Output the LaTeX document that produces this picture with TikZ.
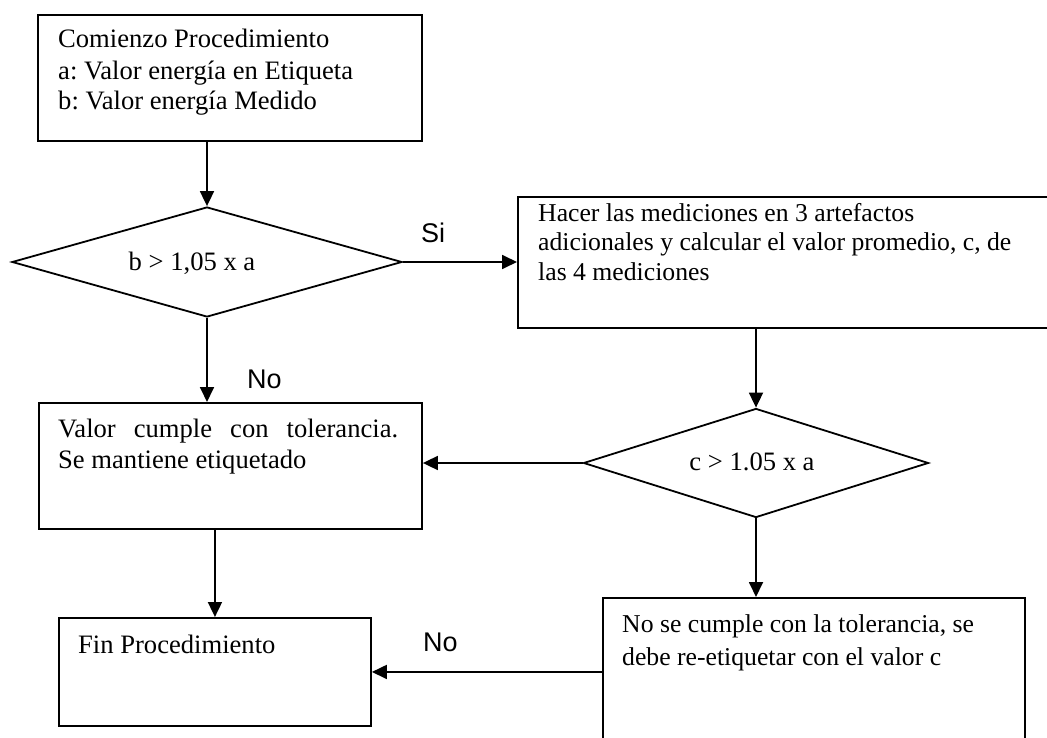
\documentclass[tikz,border=0pt]{standalone}
\usepackage{fontspec}
\setmainfont{Liberation Serif}
\newfontfamily\labelfont{Liberation Sans}
\usetikzlibrary{shapes.geometric,arrows.meta}
\frenchspacing
\tikzset{
  box/.style={draw, line width=1.9pt, inner sep=0pt, anchor=north west},
  dia/.style={draw, diamond, line width=1.8pt, inner sep=0pt},
  txt/.style={anchor=base west, inner sep=0pt, font=\fontsize{26.6}{31}\selectfont},
  txts/.style={anchor=base west, inner sep=0pt, font=\fontsize{25.7}{30}\selectfont},
  lbl/.style={anchor=base west, inner sep=0pt, font=\labelfont\fontsize{27}{31}\selectfont},
  conn/.style={line width=1.8pt, -{Triangle[length=15pt,width=14pt]}}
}
\begin{document}
\begin{tikzpicture}[x=1pt,y=-1pt]
\useasboundingbox (0,0) rectangle (1047,738);
\clip (0,0) rectangle (1047,738);
\fill[white] (0,0) rectangle (1047,738);
% boxes
\node[box, minimum width=384pt, minimum height=126pt] (b1) at (37,14) {};
\node[box, minimum width=560pt, minimum height=131pt] (b2) at (517,196) {};
\node[box, minimum width=383pt, minimum height=126pt] (b3) at (38,402) {};
\node[box, minimum width=312pt, minimum height=108pt] (fin) at (58,617) {};
\node[box, minimum width=422pt, minimum height=170pt] (b4) at (602,597) {};
% diamonds
\node[dia, minimum width=390pt, minimum height=110pt] (d1) at (207,262) {};
\node[dia, minimum width=345pt, minimum height=109pt] (d2) at (756,463) {};
% texts
\node[txt] (t1a) at (58,48) {Comienzo Procedimiento};
\node[txt] (t1b) at (58,80) {a: Valor energía en Etiqueta};
\node[txt] (t1c) at (58,110) {b: Valor energía Medido};
\node[txts] (t2a) at (538,222) {Hacer las mediciones en 3 artefactos};
\node[txts] (t2b) at (538,251) {adicionales y calcular el valor promedio, c, de};
\node[txts] (t2c) at (538,280) {las 4 mediciones};
\node[txt] (t3a) at (58,437) {\makebox[340pt][s]{Valor cumple con tolerancia.}};
\node[txt] (t3b) at (58,468) {Se mantiene etiquetado};
\node[txt] (tf) at (78,653) {Fin Procedimiento};
\node[txts] (t4a) at (622,632) {No se cumple con la tolerancia, se};
\node[txts] (t4b) at (622,665) {debe re-etiquetar con el valor c};
\node[txt, anchor=base] (td1) at (192,270) {b > 1,05 x a};
\node[txt, anchor=base] (td2) at (752,470) {c > 1.05 x a};
% labels
\node[lbl] (lsi) at (421,243) {Si};
\node[lbl] (lno1) at (247,388) {No};
\node[lbl] (lno2) at (423,651) {No};
% connectors
\draw[conn] (b1.south -| d1.north) -- (d1.north);
\draw[conn] (d1.east) -- (b2.west |- d1.east);
\draw[conn] (d1.south) -- (b3.north -| d1.south);
\draw[conn] (b2.south -| d2.north) -- (d2.north);
\draw[conn] (d2.west) -- (b3.east |- d2.west);
\draw[conn] (b3.south -| fin.north) -- (fin.north);
\draw[conn] (d2.south) -- (b4.north -| d2.south);
\draw[conn] (b4.west |- fin.east) -- (fin.east);
\end{tikzpicture}
\end{document}
